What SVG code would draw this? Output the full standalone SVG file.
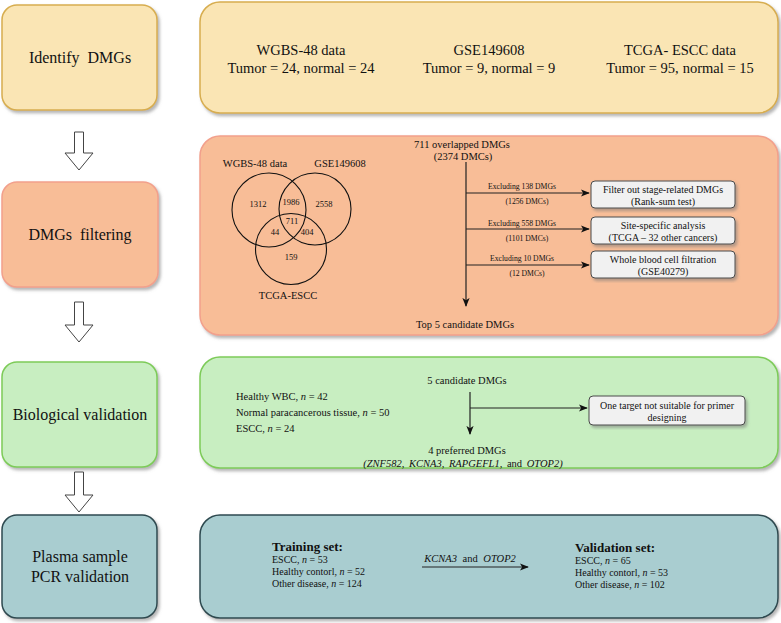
<svg xmlns="http://www.w3.org/2000/svg" width="781" height="623" viewBox="0 0 781 623" font-family="'Liberation Serif', 'Times New Roman', 'DejaVu Serif', serif">
<defs>
<filter id="sh" x="-5%" y="-5%" width="115%" height="120%">
<feDropShadow dx="2" dy="2.5" stdDeviation="1.5" flood-color="#777" flood-opacity="0.55"/>
</filter>
<marker id="ah" viewBox="0 0 10 10" refX="9" refY="5" markerWidth="9" markerHeight="9" markerUnits="userSpaceOnUse" orient="auto">
<path d="M0,1 L10,5 L0,9 L2.5,5 Z" fill="#111"/>
</marker>
<style>
text{fill:#111}
.big{font-size:16px;text-anchor:middle}
.top{font-size:14.5px;text-anchor:middle}
.vl{font-size:10.5px;text-anchor:middle}
.num{font-size:8.5px;text-anchor:middle}
.ex{font-size:7.7px;text-anchor:middle}
.bx{font-size:10px;text-anchor:middle}
.ls{font-size:10.5px}
.sm{font-size:10px}
.bold{font-size:13px;font-weight:bold}
.it{font-style:italic}
.c1{fill:#FAE5B4;stroke:#D7AD4F;stroke-width:1.5}
.c2{fill:#F8BD97;stroke:#F2A08C;stroke-width:1.5}
.c3{fill:#C8EEC1;stroke:#7DCB58;stroke-width:1.5}
.c4{fill:#A9CDD0;stroke:#2E4A50;stroke-width:1.5}
.wb{fill:#F1F1F1;stroke:#4A4A4A;stroke-width:1}
.ln{stroke:#222;stroke-width:1.2;fill:none}
.hol{fill:#fff;stroke:#444;stroke-width:1}
.vc{fill:none;stroke:#111;stroke-width:1.1}
</style>
</defs>

<g id="step1">
<rect class="c1" x="2" y="5" width="155" height="105" rx="15" filter="url(#sh)"/>
<text class="big" x="80" y="63" word-spacing="4">Identify DMGs</text>
</g>
<g id="step2">
<rect class="c2" x="2" y="182" width="156" height="105" rx="15" filter="url(#sh)"/>
<text class="big" x="80" y="240" word-spacing="4">DMGs filtering</text>
</g>
<g id="step3">
<rect class="c3" x="2" y="362" width="155" height="105" rx="15" filter="url(#sh)"/>
<text class="big" x="80" y="420">Biological validation</text>
</g>
<g id="step4">
<rect class="c4" x="2" y="515" width="155" height="103" rx="15" filter="url(#sh)"/>
<text class="big" x="80" y="562">Plasma sample</text>
<text class="big" x="80" y="582">PCR validation</text>
</g>

<g id="hollow-arrows">
<polygon class="hol" points="74.5,132 83.5,132 83.5,153 93,153 79,170 65,153 74.5,153"/>
<polygon class="hol" points="74.5,302 83.5,302 83.5,325 93,325 79,342 65,325 74.5,325"/>
<polygon class="hol" points="74.5,472 83.5,472 83.5,495 93,495 79,512 65,495 74.5,495"/>
</g>

<g id="panel1">
<rect class="c1" x="200" y="2" width="578" height="111" rx="20" filter="url(#sh)"/>
<text class="top" x="301" y="55">WGBS-48 data</text>
<text class="top" x="301" y="73">Tumor = 24, normal = 24</text>
<text class="top" x="489" y="55">GSE149608</text>
<text class="top" x="489" y="73">Tumor = 9, normal = 9</text>
<text class="top" x="680" y="55">TCGA- ESCC data</text>
<text class="top" x="680" y="73"><tspan>Tumor = 95,</tspan><tspan dx="4">normal = 15</tspan></text>
</g>

<g id="panel2">
<rect class="c2" x="200" y="136" width="578" height="199" rx="20" filter="url(#sh)"/>
<g id="venn">
<circle class="vc" cx="269" cy="210" r="37"/>
<circle class="vc" cx="315" cy="209" r="36"/>
<circle class="vc" cx="291" cy="249" r="35.5"/>
<text class="vl" x="255" y="167">WGBS-48 data</text>
<text class="vl" x="340" y="167">GSE149608</text>
<text class="vl" x="288" y="299">TCGA-ESCC</text>
<text class="num" x="258" y="207">1312</text>
<text class="num" x="291" y="205">1986</text>
<text class="num" x="324" y="207">2558</text>
<text class="num" x="292" y="224">711</text>
<text class="num" x="275" y="235">44</text>
<text class="num" x="307" y="235">404</text>
<text class="num" x="291" y="260">159</text>
</g>
<text class="vl" x="462" y="148">711 overlapped DMGs</text>
<text class="vl" x="463" y="160">(2374 DMCs)</text>
<text class="vl" x="465" y="328">Top 5 candidate DMGs</text>
<text class="ex" x="522" y="189">Excluding 138 DMGs</text>
<text class="ex" x="527" y="204">(1256 DMCs)</text>
<text class="ex" x="522" y="226">Excluding 558 DMGs</text>
<text class="ex" x="527" y="241">(1101 DMCs)</text>
<text class="ex" x="522" y="261">Excluding 10 DMGs</text>
<text class="ex" x="527" y="276">(12 DMCs)</text>
<g id="box-stage">
<rect class="wb" x="591" y="181" width="144" height="27" rx="4" filter="url(#sh)"/>
<text class="bx" x="663" y="193">Filter out stage-related DMGs</text>
<text class="bx" x="663" y="205">(Rank-sum test)</text>
</g>
<g id="box-site">
<rect class="wb" x="591" y="217" width="144" height="27" rx="4" filter="url(#sh)"/>
<text class="bx" x="663" y="229">Site-specific analysis</text>
<text class="bx" x="663" y="241">(TCGA – 32 other cancers)</text>
</g>
<g id="box-blood">
<rect class="wb" x="591" y="251" width="144" height="27" rx="4" filter="url(#sh)"/>
<text class="bx" x="663" y="263">Whole blood cell filtration</text>
<text class="bx" x="663" y="275">(GSE40279)</text>
</g>
</g>

<g id="panel3">
<rect class="c3" x="200" y="357" width="578" height="111" rx="20" filter="url(#sh)"/>
<text class="ls" x="236" y="400">Healthy WBC, <tspan class="it">n</tspan> = 42</text>
<text class="ls" x="236" y="416">Normal paracancerous tissue, <tspan class="it">n</tspan> = 50</text>
<text class="ls" x="236" y="432">ESCC, <tspan class="it">n</tspan> = 24</text>
<text class="vl" x="467" y="384">5 candidate DMGs</text>
<text class="vl" x="467" y="454">4 preferred DMGs</text>
<text class="vl" x="463" y="467" word-spacing="2"><tspan class="it">(ZNF582, KCNA3, RAPGEFL1,</tspan> and <tspan class="it">OTOP2)</tspan></text>
<g id="box-primer">
<rect class="wb" x="589" y="396" width="156" height="29" rx="4" filter="url(#sh)"/>
<text class="bx" x="667" y="409">One target not suitable for primer</text>
<text class="bx" x="667" y="421">designing</text>
</g>
</g>

<g id="panel4">
<rect class="c4" x="200" y="515" width="578" height="103" rx="20" filter="url(#sh)"/>
<text class="bold" x="272" y="551">Training set:</text>
<text class="sm" x="272" y="563">ESCC, <tspan class="it">n</tspan> = 53</text>
<text class="sm" x="272" y="575">Healthy contorl, <tspan class="it">n</tspan> = 52</text>
<text class="sm" x="272" y="587">Other disease, <tspan class="it">n</tspan> = 124</text>
<text class="vl" x="470" y="562" word-spacing="3"><tspan class="it">KCNA3</tspan> and <tspan class="it">OTOP2</tspan></text>
<text class="bold" x="575" y="552">Validation set:</text>
<text class="sm" x="575" y="564">ESCC, <tspan class="it">n</tspan> = 65</text>
<text class="sm" x="575" y="576">Healthy contorl, <tspan class="it">n</tspan> = 53</text>
<text class="sm" x="575" y="588">Other disease, <tspan class="it">n</tspan> = 102</text>
</g>

<g id="connectors">
<line class="ln" x1="466" y1="162" x2="466" y2="306" marker-end="url(#ah)"/>
<line class="ln" x1="466" y1="193" x2="589" y2="193" marker-end="url(#ah)"/>
<line class="ln" x1="466" y1="229" x2="589" y2="229" marker-end="url(#ah)"/>
<line class="ln" x1="466" y1="265" x2="589" y2="265" marker-end="url(#ah)"/>
<line class="ln" x1="470" y1="392" x2="470" y2="434" marker-end="url(#ah)"/>
<line class="ln" x1="470" y1="408" x2="587" y2="408" marker-end="url(#ah)"/>
<line class="ln" x1="422" y1="567" x2="528" y2="567" marker-end="url(#ah)"/>
</g>
</svg>
